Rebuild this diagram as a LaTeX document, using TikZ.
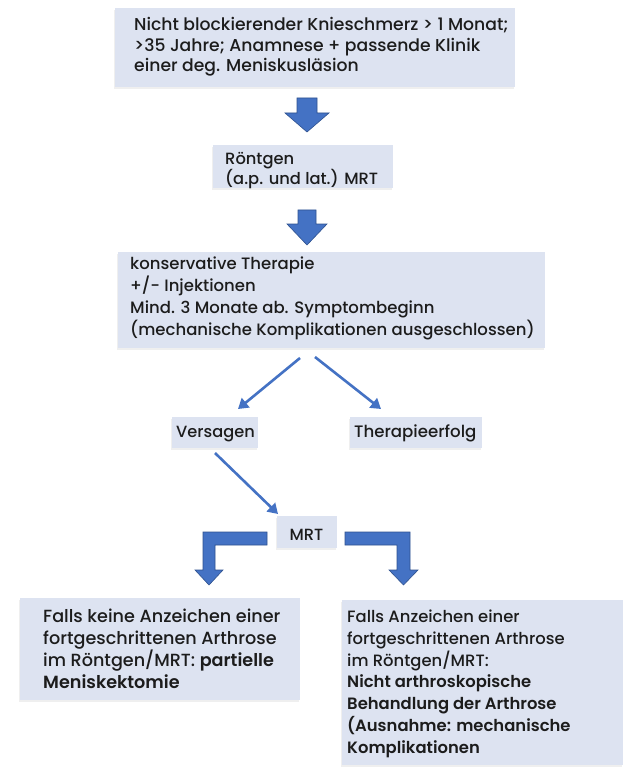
\documentclass[tikz,border=0pt]{standalone}
\usepackage{fontspec}
\setmainfont{Poppins}[UprightFont=* Medium, BoldFont=* SemiBold]
\usetikzlibrary{arrows.meta,shadows}
\definecolor{boxfill}{RGB}{221,227,241}
\definecolor{arrblue}{RGB}{68,114,196}
\definecolor{arredge}{RGB}{47,82,143}
\definecolor{txtcol}{RGB}{28,28,28}
\begin{document}
\begin{tikzpicture}[x=1pt,y=-1pt,
  box/.style={fill=boxfill, draw=none, inner sep=0pt, anchor=north west,
    drop shadow={opacity=0.12, shadow xshift=-1.5pt, shadow yshift=-1.5pt}},
  txt/.style={anchor=base west, inner sep=0pt, align=left, text=txtcol,
    font=\fontsize{16.5}{21.7}\selectfont},
  blockarrow/.style={fill=arrblue, draw=arredge, line width=0.6pt, line join=miter},
  thinarrow/.style={draw=arrblue, line width=2.6pt,
    -{Triangle[length=10pt,width=12pt]}}
]
\useasboundingbox (0,0) rectangle (626,767);
\fill[white] (0,0) rectangle (626,767);

% boxes
\node[box, minimum width=400pt, minimum height=79pt] (b1) at (115,8) {};
\node[box, minimum width=180pt, minimum height=43pt] (b2) at (213,145) {};
\node[box, minimum width=427pt, minimum height=96pt] (b3) at (118,252) {};
\node[box, minimum width=86pt, minimum height=31pt] (bv) at (172,417) {};
\node[box, minimum width=132pt, minimum height=31pt] (bt) at (350,417) {};
\node[box, minimum width=60pt, minimum height=32pt] (bm) at (277,516) {};
\node[box, minimum width=280pt, minimum height=102pt] (bl) at (20,598) {};
\node[box, minimum width=281pt, minimum height=165pt] (br) at (342,600) {};

% texts (anchor = baseline of the last line)
\node[txt, font=\fontsize{17.2}{20.5}\selectfont] (t1) at (134,72)
  {Nicht blockierender Knieschmerz > 1 Monat;\\>35 Jahre; Anamnese + passende Klinik\\einer deg. Meniskusläsion};
\node[txt, font=\fontsize{16.3}{20}\selectfont] (t2) at (225,185)
  {Röntgen\\(a.p. und lat.) MRT};
\node[txt] (t3) at (130,335)
  {konservative Therapie\\+/- Injektionen\\Mind. 3 Monate ab. Symptombeginn\\(mechanische Komplikationen ausgeschlossen)};
\node[txt, font=\fontsize{16.2}{20}\selectfont] (tv) at (176,437) {Versagen};
\node[txt, font=\fontsize{16.6}{20}\selectfont] (tt) at (354,437) {Therapieerfolg};
\node[txt, font=\fontsize{16.2}{20}\selectfont, anchor=base] (tm) at (306.5,540) {MRT};
\node[txt, font=\fontsize{17.6}{21.7}\selectfont] (tl) at (43,688)
  {Falls keine Anzeichen einer\\fortgeschrittenen Arthrose\\im Röntgen/MRT: \textbf{partielle}\\\textbf{Meniskektomie}};
\node[txt, font=\fontsize{16.4}{21.7}\selectfont] (tr) at (347,753)
  {Falls Anzeichen einer\\fortgeschrittenen Arthrose\\im Röntgen/MRT:\\\textbf{Nicht arthroskopische}\\\textbf{Behandlung der Arthrose}\\\textbf{(Ausnahme: mechanische}\\\textbf{Komplikationen}};

% block arrows
\draw[blockarrow] (297,98) -- (317,98) -- (317,113) -- (329,113) -- (307,132) -- (285,113) -- (297,113) -- cycle;
\draw[blockarrow] (298,210) -- (316,210) -- (316,224) -- (327,224) -- (307,245) -- (287,224) -- (298,224) -- cycle;

% thin arrows
\coordinate (a1s) at (300,358);
\coordinate (a1e) at (238,409);
\coordinate (a2s) at (315,357);
\coordinate (a2e) at (381,409);
\coordinate (a3s) at (215,453);
\coordinate (a3e) at (278,514);
\draw[thinarrow] (a1s) -- (a1e);
\draw[thinarrow] (a2s) -- (a2e);
\draw[thinarrow] (a3s) -- (a3e);

% bent arrows
\draw[blockarrow] (267,532) -- (203,532) -- (203,570) -- (195,570) -- (209,585) -- (223,570) -- (215,570) -- (215,545) -- (267,545) -- cycle;
\draw[blockarrow] (345,532) -- (410,532) -- (410,570) -- (418,570) -- (403.5,585) -- (389,570) -- (397,570) -- (397,545) -- (345,545) -- cycle;
\end{tikzpicture}
\end{document}
